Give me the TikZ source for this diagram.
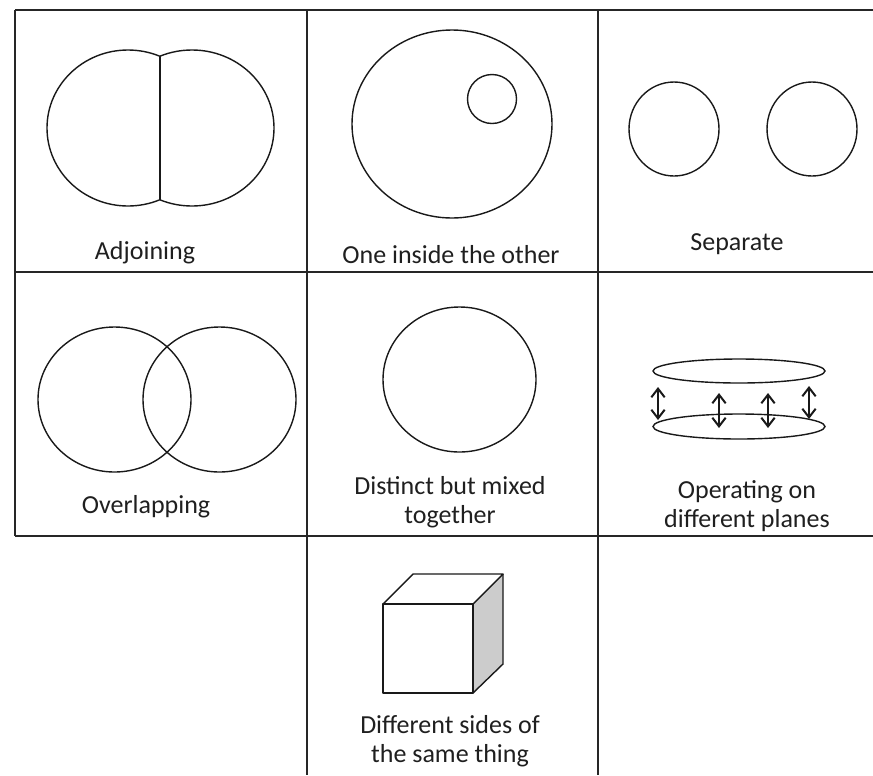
\documentclass[tikz,border=0pt]{standalone}
\usepackage{fontspec}
\setmainfont{Carlito}
\usetikzlibrary{arrows.meta}
\begin{document}
\begin{tikzpicture}[x=0.75pt,y=-0.75pt,
  grid/.style={line width=1.1pt, draw=black!85},
  shp/.style={line width=1.05pt, draw=black!90},
  lbl/.style={font=\fontsize{19.5}{21.5}\selectfont, align=center, inner sep=0pt, text=black!88, anchor=base},
  dbl/.style={line width=1.5pt, draw=black!90, {Straight Barb[length=6.5pt,width=10pt]}-{Straight Barb[length=6.5pt,width=10pt]}}]
\useasboundingbox (0,0) rectangle (873,775);
% grid
\draw[grid] (15,10) -- (873,10);
\draw[grid] (15,272) -- (873,272);
\draw[grid] (15,536) -- (873,536);
\draw[grid] (15,10) -- (15,536);
\draw[grid] (307,10) -- (307,775);
\draw[grid] (598,10) -- (598,775);
% Adjoining
\begin{scope}
  \clip (0,0) rectangle (160,272);
  \draw[shp] (128,128) ellipse [x radius=81, y radius=78];
\end{scope}
\begin{scope}
  \clip (160,0) rectangle (307,272);
  \draw[shp] (192,128) ellipse [x radius=82, y radius=78];
\end{scope}
\coordinate (jt) at (160,56.3);
\coordinate (jb) at (160,199.7);
\draw[shp] (jt) -- (jb);
\node[lbl] (t1) at (145,259) {Adjoining};
% One inside the other
\draw[shp] (452,124) ellipse [x radius=100, y radius=94];
\draw[shp] (492,99) ellipse [x radius=24.5, y radius=24.5];
\node[lbl] (t2) at (451,263) {One inside the other};
% Separate
\draw[shp] (674,129) ellipse [x radius=45, y radius=47];
\draw[shp] (812,129) ellipse [x radius=45, y radius=47];
\node[lbl] (t3) at (737,250) {Separate};
% Overlapping
\draw[shp] (114.5,399.5) ellipse [x radius=76.5, y radius=72.5];
\draw[shp] (219.5,399.5) ellipse [x radius=76.5, y radius=72.5];
\node[lbl] (t4) at (146,513) {Overlapping};
% Distinct
\draw[shp] (459.5,379.5) ellipse [x radius=76.5, y radius=72.5];
\node[lbl] (t5) at (450,523) {Distinct but mixed\\together};
% Planes
\draw[shp] (739,371) ellipse [x radius=86, y radius=12];
\draw[shp] (739,426.5) ellipse [x radius=86, y radius=12.5];
\coordinate (a1t) at (658,387); \coordinate (a1b) at (658,420);
\coordinate (a2t) at (719,393); \coordinate (a2b) at (719,428);
\coordinate (a3t) at (768,393); \coordinate (a3b) at (768,428);
\coordinate (a4t) at (809,386); \coordinate (a4b) at (809,419);
\draw[dbl] (a1t) -- (a1b);
\draw[dbl] (a2t) -- (a2b);
\draw[dbl] (a3t) -- (a3b);
\draw[dbl] (a4t) -- (a4b);
\node[lbl] (t6) at (747,527) {Operating on\\different planes};
% Cube
\fill[black!20] (473,604) -- (503,574) -- (503,664) -- (473,693) -- cycle;
\draw[shp, line join=round] (383,604) rectangle (473,693);
\draw[shp, line join=round] (383,604) -- (413,574) -- (503,574) -- (473,604);
\draw[shp, line join=round] (503,574) -- (503,664) -- (473,693);
\node[lbl] (t7) at (450,762) {Different sides of\\the same thing};
\end{tikzpicture}
\end{document}
